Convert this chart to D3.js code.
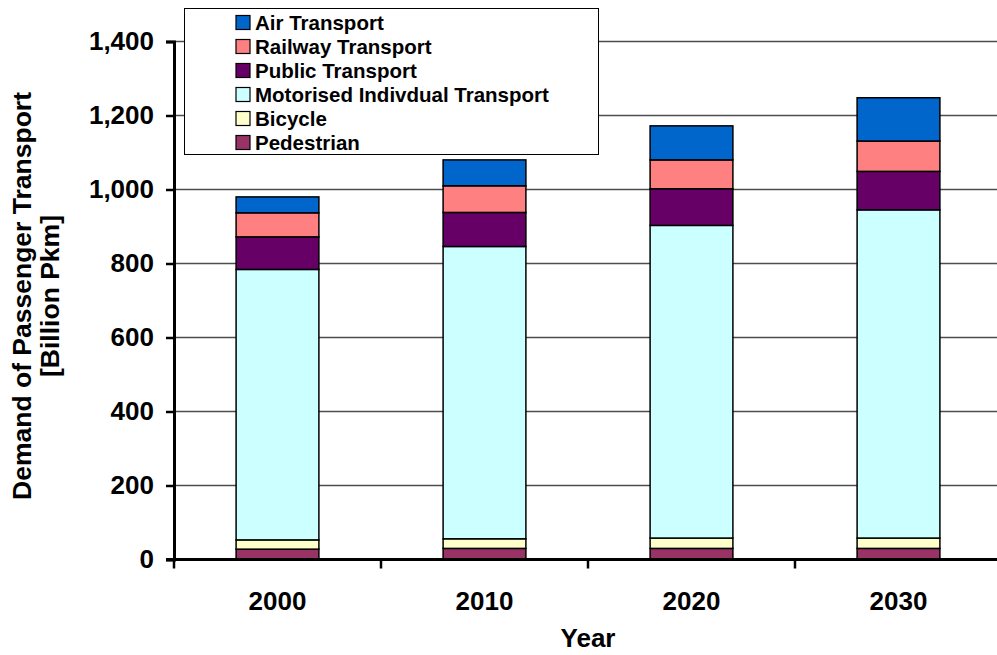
<!DOCTYPE html>
<html>
<head>
<meta charset="utf-8">
<script src="https://cdn.jsdelivr.net/npm/d3@7"></script>
<style>
  html, body { margin: 0; padding: 0; background: #fff; }
  svg { display: block; font-family: "Liberation Sans", Arial, sans-serif; }
</style>
</head>
<body>
<svg id="chart" width="997" height="655"></svg>
<script>
const years = ["2000", "2010", "2020", "2030"];
const seriesNames = ["Pedestrian", "Bicycle", "Motorised Indivdual Transport", "Public Transport", "Railway Transport", "Air Transport"];
const pedestrian = [28, 30, 30, 30];
const bicycle = [25, 26, 28, 28];
const motorised = [731, 790, 845, 887];
const publicTransport = [88, 92, 99, 104];
const railway = [65, 72, 78, 82];
const air = [43, 70, 92, 117];
const seriesColors = ["#993366", "#FFFFCC", "#CCFFFF", "#660066", "#FF8080", "#0066CC"];
const yTicks = [0, 200, 400, 600, 800, 1000, 1200, 1400];

const seriesValues = [pedestrian, bicycle, motorised, publicTransport, railway, air];
const rows = years.map((yr, i) => {
  const r = { year: yr };
  seriesNames.forEach((s, k) => r[s] = seriesValues[k][i]);
  return r;
});

const svg = d3.select("#chart");
const plotLeft = 174, plotRight = 1002, plotTop = 41.5, plotBottom = 559.5;

const x = d3.scaleBand().domain(years).range([plotLeft, plotRight]).paddingInner(0.6).paddingOuter(0.3);
const y = d3.scaleLinear().domain([0, 1400]).range([plotBottom, plotTop]);

// gridlines
svg.append("g").selectAll("line").data(yTicks.filter(d => d > 0)).join("line")
  .attr("x1", plotLeft).attr("x2", 997)
  .attr("y1", d => y(d)).attr("y2", d => y(d))
  .attr("stroke", "#4d4d4d").attr("stroke-width", 1.3);

// bars
const stack = d3.stack().keys(seriesNames)(rows);
const color = d3.scaleOrdinal().domain(seriesNames).range(seriesColors);
svg.append("g").selectAll("g").data(stack).join("g")
  .attr("fill", d => color(d.key))
  .selectAll("rect").data(d => d).join("rect")
  .attr("x", d => x(d.data.year))
  .attr("width", x.bandwidth())
  .attr("y", d => y(d[1]))
  .attr("height", d => y(d[0]) - y(d[1]))
  .attr("stroke", "#000").attr("stroke-width", 1.5);

// y axis
const yAxis = svg.append("g").attr("transform", `translate(${plotLeft},0)`)
  .call(d3.axisLeft(y).tickValues(yTicks).tickFormat(d3.format(",")).tickSize(8).tickPadding(12));
yAxis.select(".domain").attr("stroke", "#000").attr("stroke-width", 3);
yAxis.selectAll(".tick line").attr("stroke", "#000").attr("stroke-width", 2.5);
yAxis.selectAll(".tick text").attr("font-size", 26).attr("font-weight", "bold")
  .attr("fill", "#000").attr("font-family", "Liberation Sans, Arial, sans-serif");

// x axis
svg.append("line").attr("x1", plotLeft - 8).attr("x2", 997)
  .attr("y1", plotBottom).attr("y2", plotBottom).attr("stroke", "#000").attr("stroke-width", 3);
const step = x.step();
const boundaries = years.map(d => x(d) + x.bandwidth() / 2 - step / 2);
svg.append("g").selectAll("line").data(boundaries).join("line")
  .attr("x1", d => d).attr("x2", d => d)
  .attr("y1", plotBottom).attr("y2", plotBottom + 9)
  .attr("stroke", "#000").attr("stroke-width", 2.5);
svg.append("g").selectAll("text").data(years).join("text")
  .attr("x", d => x(d) + x.bandwidth() / 2)
  .attr("y", 610)
  .attr("text-anchor", "middle")
  .attr("font-size", 26).attr("font-weight", "bold")
  .text(d => d);

// axis titles
svg.append("text").attr("x", 588).attr("y", 647).attr("text-anchor", "middle")
  .attr("font-size", 26).attr("font-weight", "bold").text("Year");
const yt = svg.append("text").attr("transform", "translate(0,296) rotate(-90)")
  .attr("text-anchor", "middle").attr("font-size", 26.5).attr("font-weight", "bold");
yt.append("tspan").attr("x", 0).attr("y", 31).text("Demand of Passenger Transport");
yt.append("tspan").attr("x", 0).attr("y", 59).text("[Billion Pkm]");

// legend
const lg = svg.append("g");
lg.append("rect").attr("x", 184.5).attr("y", 8.5).attr("width", 414).attr("height", 146)
  .attr("fill", "#fff").attr("stroke", "#000").attr("stroke-width", 1);
const legendOrder = seriesNames.slice().reverse();
const items = lg.selectAll("g.item").data(legendOrder).join("g").attr("class", "item")
  .attr("transform", (d, i) => `translate(236,${22.5 + i * 24})`);
items.append("rect").attr("x", 0).attr("y", -7).attr("width", 14).attr("height", 14)
  .attr("fill", d => color(d)).attr("stroke", "#000").attr("stroke-width", 1.2);
items.append("text").attr("x", 19).attr("y", 0).attr("dy", "0.36em")
  .attr("font-size", 20.5).attr("font-weight", "bold").text(d => d);
</script>
</body>
</html>
